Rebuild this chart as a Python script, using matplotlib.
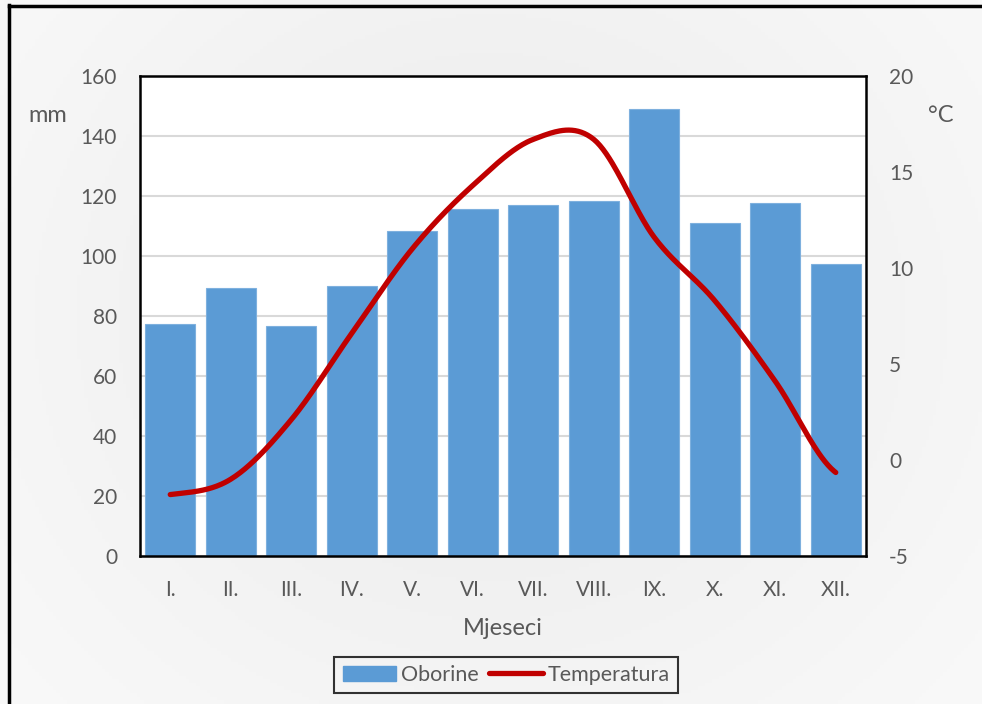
import numpy as np
import matplotlib
matplotlib.use("Agg")
import matplotlib.pyplot as plt
from matplotlib.patches import Rectangle
from matplotlib.lines import Line2D

months = ["I.", "II.", "III.", "IV.", "V.", "VI.", "VII.", "VIII.", "IX.", "X.", "XI.", "XII."]
oborine = [77.2, 89.3, 76.8, 90.1, 108.3, 115.7, 117.1, 118.3, 149.1, 110.9, 117.6, 97.2]
temperatura = [-1.8, -1.0, 2.1, 6.6, 11.0, 14.3, 16.7, 16.7, 11.6, 8.3, 4.1, -0.65]
left_ticks = [0, 20, 40, 60, 80, 100, 120, 140, 160]
right_ticks = [-5, 0, 5, 10, 15, 20]

plt.rcParams['font.family'] = ['Lato', 'DejaVu Sans']
txt = '#595959'

W, H = 982, 704
fig = plt.figure(figsize=(W / 100, H / 100), dpi=100)

# background gradient
bg = fig.add_axes([0, 0, 1, 1], zorder=-10)
yy, xx = np.mgrid[0:1:200j, 0:1:280j]
g = 0.99 - 0.06 * np.exp(-(((xx - 0.5) / 0.55) ** 2 + ((yy - 0.45) / 0.7) ** 2))
bg.imshow(np.dstack([g, g, g]), extent=[0, 1, 0, 1], aspect='auto', origin='upper')
bg.set_xlim(0, 1); bg.set_ylim(0, 1)
bg.axis('off')
# frame lines (top and left only)
fig.add_artist(Line2D([8.5 / W, 8.5 / W], [0, 1 - 5 / H], color='black', lw=2.5, transform=fig.transFigure))
fig.add_artist(Line2D([8.5 / W, 1], [1 - 5.5 / H, 1 - 5.5 / H], color='black', lw=2.5, transform=fig.transFigure))

x0, x1 = 140 / W, 866 / W
y0, y1 = 1 - 556 / H, 1 - 76 / H
ax = fig.add_axes([x0, y0, x1 - x0, y1 - y0])
ax.set_facecolor('white')
x = np.arange(len(months))
ax.bar(x, oborine, width=0.82, color='#5b9bd5', edgecolor='#7eb0de', linewidth=0.8, zorder=2)
ax.set_xlim(-0.5, len(months) - 0.5)
ax.set_ylim(0, 160)
ax.set_yticks(left_ticks)
ax.set_yticklabels([str(v) for v in left_ticks])
ax.yaxis.grid(True, color='#d9d9d9', lw=1.5, zorder=0)
ax.set_axisbelow(True)
ax.set_xticks(x)
ax.set_xticklabels(months)
ax.tick_params(axis='both', length=0, labelsize=15, colors=txt)
ax.tick_params(axis='y', pad=16.5)
ax.tick_params(axis='x', pad=17)
for s in ax.spines.values():
    s.set_color('black')
    s.set_linewidth(1.8)
ax.set_xlabel('Mjeseci', fontsize=17, color=txt, labelpad=13)

ax2 = ax.twinx()
ax2.set_ylim(-5, 20)
ax2.set_yticks(right_ticks)
ax2.set_yticklabels([str(v) for v in right_ticks])
ax2.tick_params(axis='y', length=0, labelsize=15, colors=txt, pad=16.5)
for s in ax2.spines.values():
    s.set_visible(False)

# smoothed line (Catmull-Rom style like Excel smoothing)
P = np.array(temperatura, dtype=float)
xs, ys = [], []
n = len(P)
for i in range(n - 1):
    p0 = P[i - 1] if i > 0 else P[i]
    p1, p2 = P[i], P[i + 1]
    p3 = P[i + 2] if i + 2 < n else P[i + 1]
    c1 = p1 + (p2 - p0) / 6
    c2 = p2 - (p3 - p1) / 6
    t = np.linspace(0, 1, 40)
    xb = (1 - t) ** 3 * i + 3 * (1 - t) ** 2 * t * (i + 1 / 3) + 3 * (1 - t) * t ** 2 * (i + 2 / 3) + t ** 3 * (i + 1)
    yb = (1 - t) ** 3 * p1 + 3 * (1 - t) ** 2 * t * c1 + 3 * (1 - t) * t ** 2 * c2 + t ** 3 * p2
    xs.extend(xb); ys.extend(yb)
ax2.plot(xs, ys, color='#c00000', lw=3.8, solid_capstyle='round', zorder=5)

fig.text(48 / W, 1 - 116 / H, 'mm', fontsize=17, color=txt, ha='center', va='center')
fig.text(941 / W, 1 - 116 / H, '°C', fontsize=17, color=txt, ha='center', va='center')

# legend
handles = [Rectangle((0, 0), 1, 1, color='#5b9bd5'),
           Line2D([0], [0], color='#c00000', lw=3.8, solid_capstyle='round')]
leg = fig.legend(handles, ['Oborine', 'Temperatura'], loc='center', bbox_to_anchor=(506 / W, 1 - 675 / H),
                 ncol=2, frameon=True, fontsize=15.5, handlelength=2.5, handletextpad=0.2,
                 columnspacing=0.5, borderpad=0.38, fancybox=False)
leg.get_frame().set_edgecolor('black')
leg.get_frame().set_linewidth(1.5)
leg.get_frame().set_facecolor('none')
for t in leg.get_texts():
    t.set_color(txt)

fig.savefig('out.png', dpi=100)
